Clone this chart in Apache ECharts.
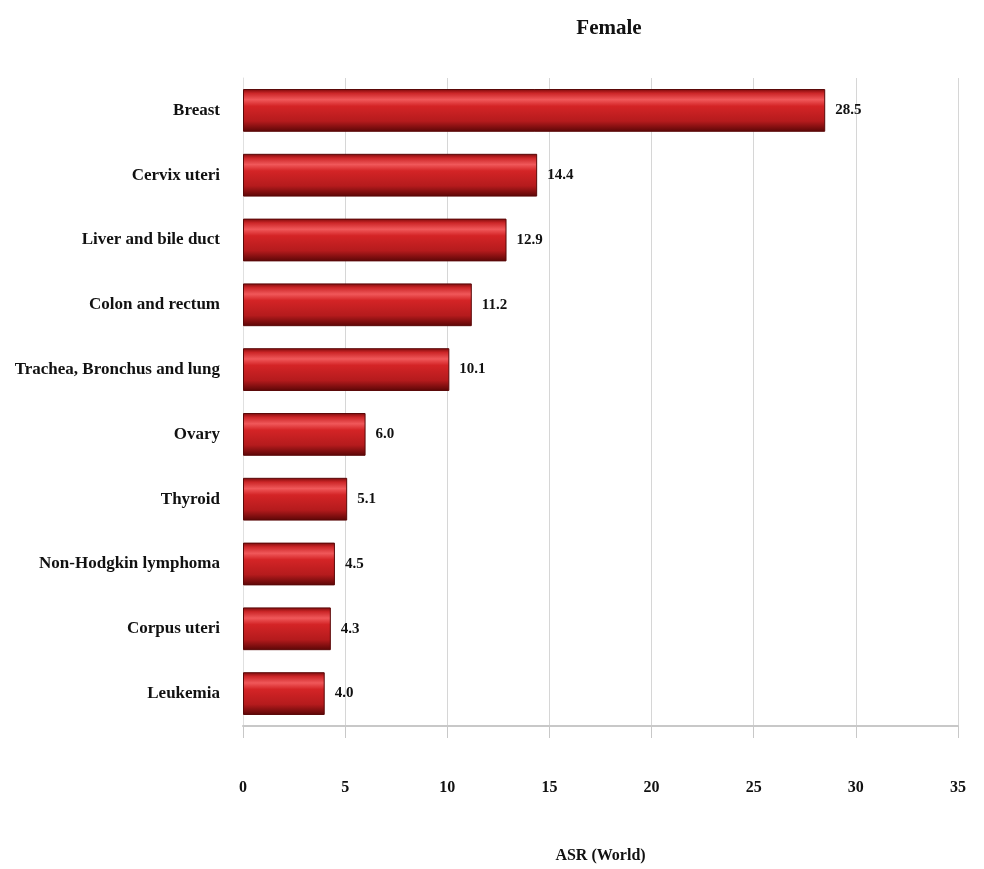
<!DOCTYPE html>
<html><head><meta charset="utf-8">
<script src="https://cdn.jsdelivr.net/npm/echarts@6/dist/echarts.min.js"></script>
<style>html,body{margin:0;padding:0;background:#fff}#c{width:984px;height:869px}</style>
</head><body><div id="c"></div>
<script>
const categories = ["Breast","Cervix uteri","Liver and bile duct","Colon and rectum","Trachea, Bronchus and lung","Ovary","Thyroid","Non-Hodgkin lymphoma","Corpus uteri","Leukemia"];
const values = [28.5,14.4,12.9,11.2,10.1,6.0,5.1,4.5,4.3,4.0];
const xTicks = [0,5,10,15,20,25,30,35];

const font = '"Liberation Serif", "Times New Roman", serif';
const chart = echarts.init(document.getElementById('c'));
chart.setOption({
  animation:false,
  title:{text:'Female',left:604,top:13,textAlign:'center',textStyle:{fontFamily:font,fontWeight:'bold',fontSize:21,color:'#111'}},
  grid:{left:243,right:26,top:78,bottom:137},
  xAxis:{type:'value',min:xTicks[0],max:xTicks[xTicks.length-1],interval:5,
    name:'ASR (World)',nameLocation:'middle',nameGap:122,
    nameTextStyle:{fontFamily:font,fontWeight:'bold',fontSize:16,color:'#111'},
    axisLine:{show:true,lineStyle:{color:'#c8c8c8',width:2}},
    axisTick:{show:true,length:12,lineStyle:{color:'#c8c8c8'}},
    axisLabel:{fontFamily:font,fontWeight:'bold',fontSize:16,color:'#111',margin:54},
    splitLine:{show:true,lineStyle:{color:'#d6d6d6'}}},
  yAxis:{type:'category',data:categories,inverse:true,
    axisLine:{show:true,lineStyle:{color:'#e0e0e0'}},
    axisTick:{show:false},
    axisLabel:{fontFamily:font,fontWeight:'bold',fontSize:17,color:'#111',margin:23}},
  series:[{type:'bar',data:values,barWidth:'66%',
    itemStyle:{borderColor:'#5a0808',borderWidth:1,
      color:new echarts.graphic.LinearGradient(0,0,0,1,[
        {offset:0,color:'#7a0a0a'},
        {offset:0.1,color:'#cc2628'},
        {offset:0.25,color:'#f0585a'},
        {offset:0.4,color:'#d42426'},
        {offset:0.75,color:'#b51b1d'},
        {offset:1,color:'#5a0606'}])},
    label:{show:true,position:'right',distance:10,fontFamily:font,fontWeight:'bold',fontSize:15,color:'#111',
      formatter:p=>p.value.toFixed(1)}}]
});
</script></body></html>
